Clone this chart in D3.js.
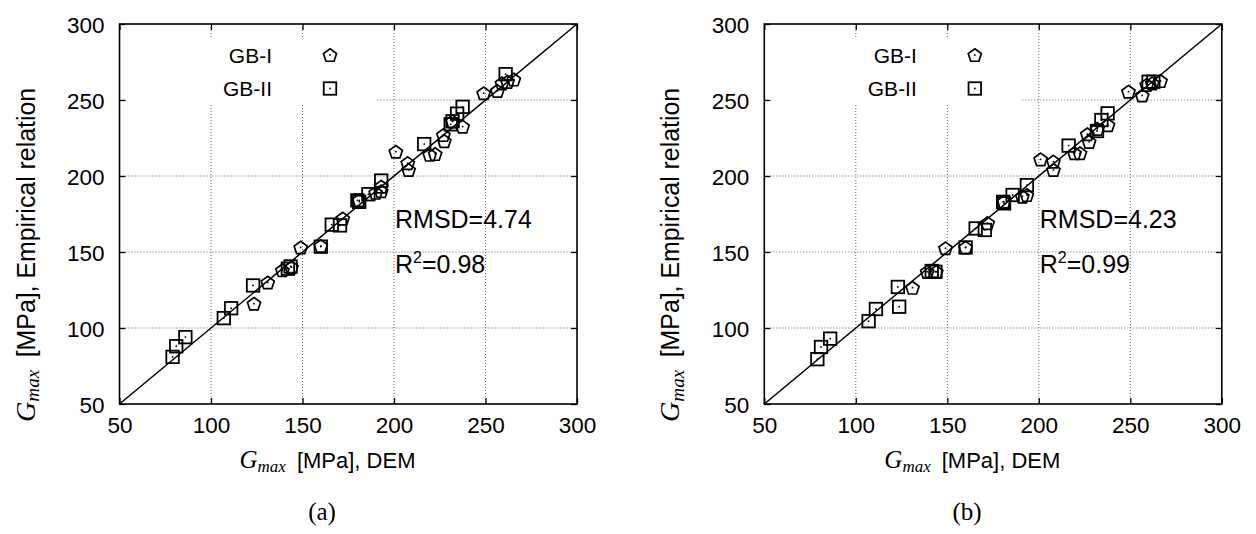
<!DOCTYPE html>
<html>
<head>
<meta charset="utf-8">
<script src="https://cdn.jsdelivr.net/npm/d3@7"></script>
<style>
  html, body { margin: 0; padding: 0; background: #fff; }
  svg { display: block; }
  .sans { font-family: "Liberation Sans", Arial, sans-serif; }
  .serif { font-family: "Liberation Serif", "DejaVu Serif", serif; }
</style>
</head>
<body>
<svg id="fig" width="1256" height="534"></svg>
<script>
// Axis ticks shared by both panels (MPa)
const tickValues = [50, 100, 150, 200, 250, 300];
const gridValues = [100, 150, 200, 250];

// Panel (a): GB-I — DEM value and empirical-relation value
const demA_GB1 = [123.5, 131, 139, 144, 149, 160, 172, 181, 190, 193, 193, 201, 207.5, 208, 219.5, 222.5, 227, 227.5, 232, 237.5, 249, 256.5, 259, 262, 265.5];
const empA_GB1 = [116, 130, 138, 140, 153, 154, 172, 184, 189, 190, 193, 216, 208.5, 204, 214, 214.5, 227, 223, 236, 232.5, 254.5, 256, 261, 262, 263.5];
// Panel (a): GB-II
const demA_GB2 = [79, 81, 86, 107, 111, 123, 142, 143.5, 160, 166, 170.5, 180, 181, 186, 193, 216.5, 231, 232, 234.5, 237.5, 261];
const empA_GB2 = [81, 88, 94, 106.5, 113, 128, 139, 140.5, 153.5, 168, 167.5, 184, 183, 188, 197, 221, 234, 236, 241, 245.5, 267];

// Panel (b): GB-I
const demB_GB1 = [131, 139, 144, 149, 160, 172, 181, 191, 193.5, 201, 208, 208, 219.5, 222.5, 226.5, 227.5, 232, 237.8, 249, 256.5, 259, 262, 266.5];
const empB_GB1 = [126.5, 137, 137, 152.5, 153, 169, 183, 186.5, 187.5, 211, 209.5, 204, 215, 215, 227.5, 222.5, 231, 233.5, 255.5, 253, 260, 261, 262.5];
// Panel (b): GB-II
const demB_GB2 = [79, 81, 86, 107, 111, 123, 123.7, 141.5, 143.5, 160, 165.5, 170.5, 180.5, 181, 185.7, 193.5, 216.3, 231.8, 234.2, 237.6, 260, 262.6];
const empB_GB2 = [79.5, 87.5, 93, 104.5, 112.5, 127, 114, 137.5, 137, 153, 165.5, 164.5, 183, 182, 187.5, 194, 220, 229.6, 236.8, 241.2, 262, 262];

// Fit statistics and captions
const rmsd = ["4.74", "4.23"];
const r2 = ["0.98", "0.99"];
const captions = ["(a)", "(b)"];
const seriesNames = ["GB-I", "GB-II"];

const zip = (a, b) => a.map((v, i) => [v, b[i]]);
const panels = [
  { left: 119.5, gb1: zip(demA_GB1, empA_GB1), gb2: zip(demA_GB2, empA_GB2), rmsd: rmsd[0], r2: r2[0], caption: captions[0] },
  { left: 764.3, gb1: zip(demB_GB1, empB_GB1), gb2: zip(demB_GB2, empB_GB2), rmsd: rmsd[1], r2: r2[1], caption: captions[1] }
];

const svg = d3.select("#fig");
const W = 457.5, H = 380, TOP = 24;

// Regular pentagon, point up
function pentagon(r) {
  const pts = d3.range(5).map(k => {
    const a = -Math.PI / 2 + k * 2 * Math.PI / 5;
    return [r * Math.cos(a), r * Math.sin(a) + r * 0.1];
  });
  return "M" + pts.map(p => p.join(",")).join("L") + "Z";
}
const PENT = pentagon(6.9);
const SQ = 12.5;

function drawMarker(sel, kind) {
  if (kind === 0) {
    sel.append("path").attr("d", PENT)
      .attr("fill", "none").attr("stroke", "#000").attr("stroke-width", 1.7);
  } else {
    sel.append("rect").attr("x", -SQ / 2).attr("y", -SQ / 2).attr("width", SQ).attr("height", SQ)
      .attr("fill", "none").attr("stroke", "#000").attr("stroke-width", 1.8);
  }
  sel.append("circle").attr("r", 0.9).attr("fill", "#000");
}

// G_max label: italic serif G with italic subscript, followed by sans text
function gmaxLabel(t, rest, s) {
  t.append("tspan").attr("class", "serif").attr("font-style", "italic").attr("font-size", 25 * s).text("G");
  t.append("tspan").attr("class", "serif").attr("font-style", "italic").attr("font-size", 17 * s).attr("dy", 4 * s).text("max");
  t.append("tspan").attr("class", "sans").attr("font-size", 22 * s).attr("dy", -4 * s).text("\u2002[MPa], " + rest);
}

panels.forEach((p, idx) => {
  const x = d3.scaleLinear().domain([50, 300]).range([0, W]);
  const y = d3.scaleLinear().domain([50, 300]).range([H, 0]);
  const g = svg.append("g").attr("transform", `translate(${p.left},${TOP})`);

  // dotted grid
  const grid = g.append("g").attr("stroke", "#666").attr("stroke-width", 1).attr("stroke-dasharray", "1,2");
  grid.selectAll(".gx").data(gridValues).join("line")
    .attr("x1", d => x(d)).attr("x2", d => x(d)).attr("y1", 0).attr("y2", H);
  grid.selectAll(".gy").data(gridValues).join("line")
    .attr("y1", d => y(d)).attr("y2", d => y(d)).attr("x1", 0).attr("x2", W);

  // opaque key box
  g.append("rect").attr("x", 6).attr("y", 15).attr("width", 251).attr("height", 66).attr("fill", "#fff");

  // 1:1 line
  g.append("line").attr("x1", x(50)).attr("y1", y(50)).attr("x2", x(300)).attr("y2", y(300))
    .attr("stroke", "#000").attr("stroke-width", 1.5);

  // points
  [p.gb1, p.gb2].forEach((data, k) => {
    g.append("g").selectAll("g").data(data).join("g")
      .attr("transform", d => `translate(${x(d[0])},${y(d[1])})`)
      .each(function () { drawMarker(d3.select(this), k); });
  });

  // axes with inward ticks (mirrored on top/right)
  const fmt = d3.format("d");
  const ax = g.append("g").attr("transform", `translate(0,${H})`)
    .call(d3.axisBottom(x).tickValues(tickValues).tickSize(-6).tickPadding(13).tickFormat(fmt));
  const ay = g.append("g")
    .call(d3.axisLeft(y).tickValues(tickValues).tickSize(-6).tickPadding(15).tickFormat(fmt));
  g.append("g").call(d3.axisTop(x).tickValues(tickValues).tickSize(-6).tickFormat(""));
  g.append("g").attr("transform", `translate(${W},0)`)
    .call(d3.axisRight(y).tickValues(tickValues).tickSize(-6).tickFormat(""));
  g.selectAll(".domain").remove();
  g.selectAll(".tick line").attr("stroke", "#000").attr("stroke-width", 1.3);
  [ax, ay].forEach(a => a.selectAll("text").attr("class", "sans").attr("font-size", 22.5).attr("fill", "#000"));
  ax.selectAll("text").attr("dy", "0.71em");
  ay.selectAll("text").attr("dy", "0.36em");

  // frame
  g.append("rect").attr("width", W).attr("height", H).attr("fill", "none")
    .attr("stroke", "#000").attr("stroke-width", 1.6);

  // key
  seriesNames.forEach((name, k) => {
    const ky = k === 0 ? 31 : 64.5;
    g.append("text").attr("class", "sans").attr("font-size", 21).attr("text-anchor", "end")
      .attr("x", 152.5).attr("y", ky + 7.5).text(name);
    const m = g.append("g").attr("transform", `translate(210.5,${ky})`);
    drawMarker(m, k);
  });

  // statistics
  g.append("text").attr("class", "sans").attr("font-size", 25).attr("x", 275.5).attr("y", 204).text("RMSD=" + p.rmsd);
  const rt = g.append("text").attr("class", "sans").attr("font-size", 25).attr("x", 275.5).attr("y", 249);
  rt.append("tspan").text("R");
  rt.append("tspan").attr("font-size", 16).attr("dy", -10).text("2");
  rt.append("tspan").attr("dy", 10).text("=" + p.r2);

  // axis titles
  const xt = svg.append("text").attr("text-anchor", "middle")
    .attr("x", p.left + 208).attr("y", 468);
  gmaxLabel(xt, "DEM", 1);
  const yt = svg.append("text").attr("text-anchor", "middle")
    .attr("transform", `translate(${p.left - 85},255) rotate(-90)`);
  gmaxLabel(yt, "Empirical relation", 1.13);

  // caption
  svg.append("text").attr("class", "serif").attr("font-size", 25).attr("text-anchor", "middle")
    .attr("x", 322 + idx * 645).attr("y", 520).text(p.caption);
});
</script>
</body>
</html>
